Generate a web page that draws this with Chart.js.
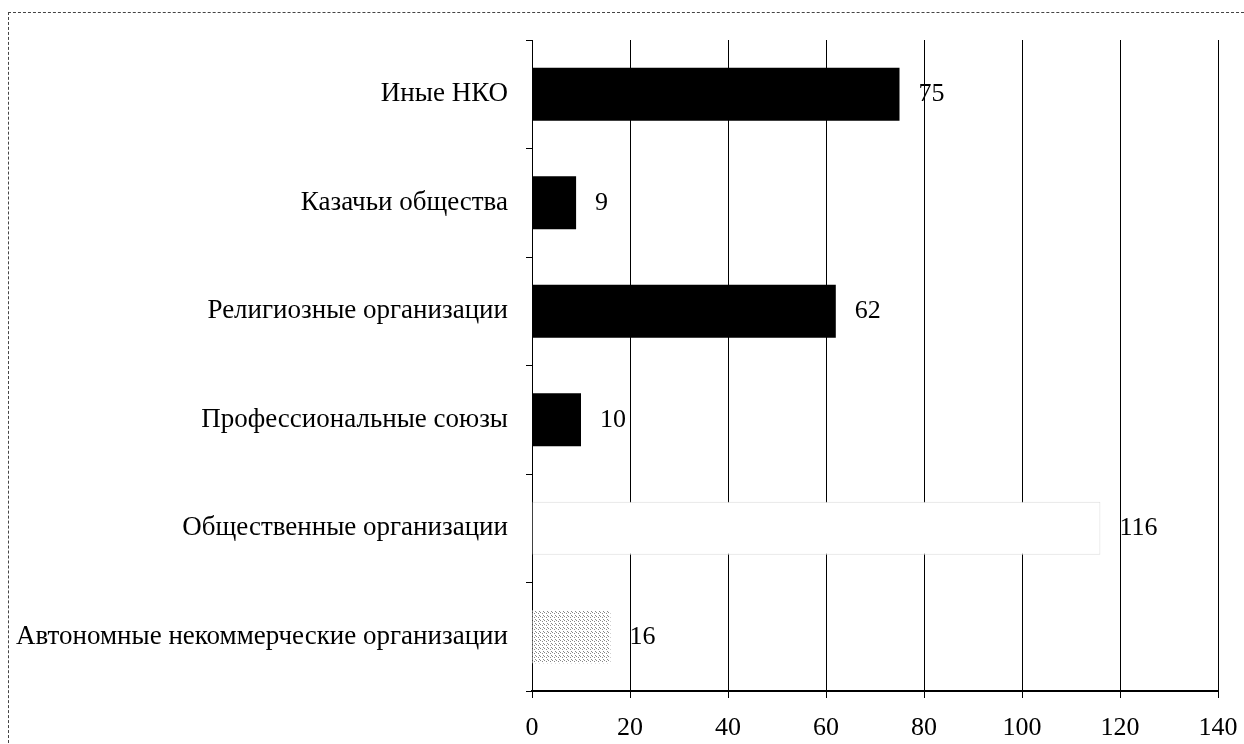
<!DOCTYPE html>
<html>
<head>
<meta charset="utf-8">
<script src="https://cdn.jsdelivr.net/npm/chart.js@4/dist/chart.umd.min.js"></script>
<style>
  html, body { margin: 0; padding: 0; background: #fff; }
  #wrap { position: relative; width: 1244px; height: 744px; overflow: hidden; }
  #frame { position: absolute; left: 8px; top: 12px; width: 1240px; height: 740px;
           border-top: 1px dashed #444; border-left: 1px dashed #444; }
  canvas { position: absolute; left: 0; top: 0; }
</style>
</head>
<body>
<div id="wrap">
  <div id="frame"></div>
  <canvas id="chart" width="1244" height="744"></canvas>
</div>
<script>
// categories, top to bottom
const categories = [
  'Иные НКО',
  'Казачьи общества',
  'Религиозные организации',
  'Профессиональные союзы',
  'Общественные организации',
  'Автономные некоммерческие организации'
];
const counts = [75, 9, 62, 10, 116, 16];
const xTicks = [0, 20, 40, 60, 80, 100, 120, 140];

const serif = '"Liberation Serif", "Times New Roman", serif';

// speckled grey fill for the last bar
function speckle() {
  const c = document.createElement('canvas');
  c.width = 4; c.height = 4;
  const g = c.getContext('2d');
  g.fillStyle = '#fff';
  g.fillRect(0, 0, 4, 4);
  g.fillStyle = '#888';
  g.fillRect(0, 0, 1, 1);
  g.fillRect(2, 1, 1, 1);
  g.fillRect(3, 3, 1, 1);
  return g.createPattern(c, 'repeat');
}

const ctx = document.getElementById('chart').getContext('2d');
const fills = ['#000', '#000', '#000', '#000', '#fff', speckle()];
const borders = ['#000', '#000', '#000', '#000', '#ddd', 'rgba(0,0,0,0)'];

// draw the numbers next to the bars
const valueLabels = {
  id: 'valueLabels',
  afterDatasetsDraw(chart) {
    const c = chart.ctx;
    const meta = chart.getDatasetMeta(0);
    c.save();
    c.fillStyle = '#000';
    c.font = '26px ' + serif;
    c.textBaseline = 'middle';
    c.textAlign = 'left';
    meta.data.forEach((bar, i) => {
      c.fillText(String(counts[i]), bar.x + 19, bar.y);
    });
    c.restore();
  }
};

new Chart(ctx, {
  type: 'bar',
  data: {
    labels: categories,
    datasets: [{
      data: counts,
      backgroundColor: fills,
      borderColor: borders,
      borderWidth: [0, 0, 0, 0, 1, 0],
      categoryPercentage: 1,
      barPercentage: 0.49
    }]
  },
  options: {
    indexAxis: 'y',
    responsive: false,
    animation: false,
    layout: { padding: { top: 40, right: 26, left: 0, bottom: 0 } },
    plugins: {
      legend: { display: false },
      tooltip: { enabled: false }
    },
    scales: {
      x: {
        min: 0,
        max: 140,
        afterBuildTicks(scale) {
          scale.ticks = xTicks.map(v => ({ value: v }));
        },
        afterFit(scale) {
          scale.height = 53;
          scale.paddingRight = 0;
        },
        grid: {
          color: '#000',
          lineWidth: 1,
          tickLength: 7,
          drawTicks: true
        },
        border: { display: true, color: '#000', width: 2 },
        ticks: {
          color: '#000',
          padding: 15,
          maxRotation: 0,
          font: { family: serif, size: 26 }
        }
      },
      y: {
        afterFit(scale) { scale.width = 532; },
        grid: {
          drawOnChartArea: false,
          drawTicks: true,
          tickLength: 6,
          color: '#000',
          offset: true
        },
        border: { display: true, color: '#000', width: 1 },
        ticks: {
          color: '#000',
          padding: 18,
          font: { family: serif, size: 27 }
        }
      }
    }
  },
  plugins: [valueLabels]
});
</script>
</body>
</html>
